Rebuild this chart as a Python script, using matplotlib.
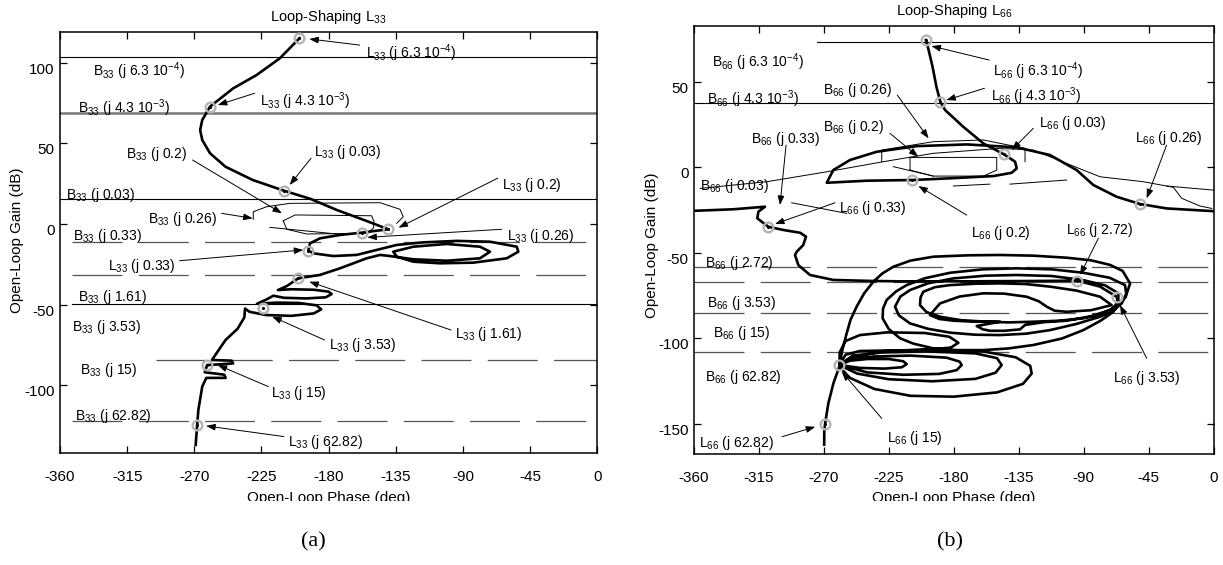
import numpy as np
import matplotlib
matplotlib.use("Agg")
import matplotlib.pyplot as plt
from matplotlib.patches import Rectangle

plt.rcParams['font.family'] = ['Liberation Sans', 'DejaVu Sans']
plt.rcParams['mathtext.default'] = 'regular'
plt.rcParams['axes.unicode_minus'] = False

phase_ticks = [-360, -315, -270, -225, -180, -135, -90, -45, 0]

# ---------------- L33 (left) ----------------
l33_phase = [-199.6, -212.7, -228.3, -243.9, -259.5, -264.7, -266.1, -264.7, -259.5, -249.1,
             -230.9, -210.1, -192.0, -174.6, -155.0, -140.0, -148.0, -157.9, -172.4, -185.8,
             -192.5, -193.6, -190.3, -176.9, -161.2, -147.8, -134.4, -116.6, -94.2, -71.9,
             -54.0, -52.9, -60.7, -83.1, -105.4, -123.3, -134.4, -136.7, -123.3, -100.9,
             -78.6, -71.9, -78.6, -100.9, -123.3, -138.9, -145.6, -154.5, -172.4, -185.8,
             -200.3, -208.0, -214.0, -205.0, -190.0, -180.0, -178.0, -182.0, -195.0, -210.0,
             -217.0, -222.0, -228.0, -215.0, -200.0, -188.0, -185.0, -190.0, -205.0, -222.0,
             -233.0, -236.0, -236.5, -241.0, -249.1, -258.2, -245.0, -244.0, -255.0, -261.4,
             -263.0, -250.0, -249.0, -262.0, -264.7, -267.3, -268.1, -269.1]
l33_gain = [115.2, 102.8, 92.4, 84.2, 72.8, 64.5, 58.3, 52.1, 43.9, 35.5,
            27.3, 20.7, 15.5, 8.7, 2.0, -3.3, -4.2, -5.4, -6.8, -8.9,
            -12.0, -16.5, -18.2, -19.9, -19.2, -16.1, -13.0, -11.4, -10.5, -11.0,
            -14.1, -17.2, -21.3, -24.0, -24.4, -23.4, -20.3, -17.2, -14.1, -12.4,
            -14.1, -17.2, -21.3, -22.8, -21.9, -19.9, -19.2, -21.3, -27.5, -31.6,
            -33.7, -38.5, -41.0, -40.5, -40.8, -42.0, -43.5, -45.5, -46.2, -45.8,
            -44.5, -47.0, -49.5, -48.8, -49.0, -50.5, -53.0, -55.5, -57.0, -56.5,
            -54.5, -52.5, -58.0, -65.0, -72.0, -84.4, -84.8, -86.5, -87.2, -87.5,
            -92.0, -93.5, -95.5, -95.5, -100.9, -115.4, -124.7, -137.1]

l33_mark_phase = [-199.6, -259.5, -210.1, -140.0, -157.9, -193.6, -200.3, -224.2, -261.4, -268.1]
l33_mark_gain = [115.2, 72.8, 20.7, -3.3, -5.4, -16.5, -33.7, -52.3, -87.5, -124.7]

# horizontal bounds B33
b33_level = [103.4, 69.0, 15.5, -11.0, -31.6, -49.8, -84.4, -122.0]
b33_start = [-360, -360, -360, -352, -352, -352, -296, -352]
b33_dashed = [False, False, False, True, True, False, True, True]

# closed bounds B33(j0.2) and B33(j0.26)
b33_02_phase = [-210.4, -202.5, -151.2, -149.6, -150.1, -154.5, -194.7, -208.1, -210.4]
b33_02_gain = [2.0, 5.6, 5.1, 1.4, -2.7, -5.8, -6.2, -3.3, 2.0]
b33_02b_phase = [-219.3, -174.6]
b33_02b_gain = [-2.1, -6.2]
b33_026_phase = [-230.5, -230.5, -221.5, -205.9, -145.6, -132.2, -130.0, -134.4]
b33_026_gain = [2.9, 7.6, 10.7, 12.8, 13.2, 9.1, 4.5, 0.4]

# labels (text, phase, gain) and arrows (tail -> tip)
l33_labels = [
    (r'B$_{33}$ (j 6.3 10$^{-4}$)', -338.2, 94.5),
    (r'L$_{33}$ (j 6.3 10$^{-4}$)', -155.3, 105.9),
    (r'B$_{33}$ (j 4.3 10$^{-3}$)', -348.1, 71.8),
    (r'L$_{33}$ (j 4.3 10$^{-3}$)', -226.2, 75.9),
    (r'B$_{33}$ (j 0.2)', -315.5, 43.4),
    (r'L$_{33}$ (j 0.03)', -189.7, 44.5),
    (r'B$_{33}$ (j 0.03)', -355.9, 18.0),
    (r'L$_{33}$ (j 0.2)', -63.6, 24.2),
    (r'B$_{33}$ (j 0.26)', -301.2, 2.9),
    (r'B$_{33}$ (j 0.33)', -351.2, -7.2),
    (r'L$_{33}$ (j 0.26)', -60.2, -7.2),
    (r'L$_{33}$ (j 0.33)', -327.8, -25.9),
    (r'B$_{33}$ (j 1.61)', -348.1, -45.1),
    (r'B$_{33}$ (j 3.53)', -352.0, -64.1),
    (r'L$_{33}$ (j 1.61)', -95.4, -68.2),
    (r'L$_{33}$ (j 3.53)', -180.1, -75.1),
    (r'B$_{33}$ (j 15)', -346.8, -90.6),
    (r'L$_{33}$ (j 15)', -218.6, -105.0),
    (r'B$_{33}$ (j 62.82)', -350.0, -118.9),
    (r'L$_{33}$ (j 62.82)', -207.4, -135.4),
]
l33_arrows = [
    ((-159.2, 111.0), (-193.0, 114.8)),
    ((-229.6, 81.1), (-254.3, 73.8)),
    ((-191.8, 40.8), (-206.1, 24.2)),
    ((-271.2, 39.7), (-211.3, 6.6)),
    ((-66.7, 28.4), (-133.2, -2.3)),
    ((-251.7, 6.6), (-230.9, 3.5)),
    ((-64.1, -3.3), (-154.1, -8.3)),
    ((-279.9, -22.8), (-197.0, -16.1)),
    ((-98.0, -65.8), (-193.0, -35.8)),
    ((-182.7, -72.0), (-217.8, -57.5)),
    ((-220.4, -100.9), (-254.3, -87.5)),
    ((-210.0, -131.9), (-262.1, -125.3)),
]

# ---------------- L66 (right) ----------------
l66_phase = [-199.3, -197.4, -194.7, -192.0, -189.3, -186.0, -173.4, -159.5, -145.2, -137.5,
             -136.4, -139.9, -152.6, -182.6, -208.7, -240.3, -268.0, -263.5, -251.9, -233.4,
             -205.7, -171.0, -136.4, -113.3, -94.8, -83.3, -67.1, -51.0, -32.5, -2.4, 0.0,
             np.nan,
             -360.0, -332.8, -310.8, -315.4, -316.1, -308.5, -298.1, -286.5, -282.4, -284.3,
             -288.8, -290.0, -287.7, -279.6, -263.4, -235.7, -217.2, -171.0, -124.8, -94.4,
             -78.6, -67.1,
             # upper loops
             -66.0, -69.4, -78.0, -90.2, -105.0, -124.8, -142.0, -159.5, -178.0, -194.1,
             -208.0, -217.2, -225.0, -229.3, -229.0, -226.5, -220.0, -212.6, -200.0, -182.6,
             -160.0, -136.4, -112.0, -90.2, -72.0, -61.3, -60.5, -63.6,
             -70.0, -78.6, -95.0, -113.3, -130.0, -147.9, -165.0, -182.6, -198.0, -210.3,
             -218.0, -220.7, -217.0, -210.3, -198.0, -180.3, -158.0, -136.4, -112.0, -90.2,
             -75.0, -65.9, -66.0, -69.4,
             -80.0, -90.2, -107.0, -124.8, -142.0, -157.2, -175.0, -189.5, -199.0, -203.4,
             -203.0, -201.1, -193.0, -182.6, -165.0, -147.9, -130.0, -113.3, -95.0, -78.6,
             -70.6,
             -85.0, -101.7, -110.0, -115.6, -121.0, -129.5, -145.0, -159.5, -176.0, -189.5,
             -196.5, -190.0, -180.3, -165.0, -147.9,
             -164.1, -160.0, -154.9, -145.0, -134.1, -130.6, -118.0, -101.7, -85.0, -71.7,
             -61.0, -57.8,
             # outer arc down to j15
             -63.0, -71.7, -85.0, -101.7, -125.0, -147.9, -170.0, -194.1, -210.0, -221.9,
             -229.5, -235.7, -242.0, -247.3, -251.5, -254.2, -257.0, -259.3,
             # lower loops around j15
             -259.0, -255.0, -245.0, -226.0, -200.0, -183.0, -176.8, -182.0, -200.0, -225.0,
             -245.0, -255.0, -259.3,
             -252.0, -240.0, -225.0, -215.0, -212.6, -216.0, -228.0, -245.0, -259.3,
             -252.0, -235.0, -210.0, -185.0, -176.0, -174.5, -178.0, -190.0, -215.0, -240.0,
             -259.3,
             -250.0, -230.0, -200.0, -165.0, -150.0, -146.8, -151.0, -165.0, -195.0, -225.0,
             -247.0, -259.3,
             -250.0, -230.0, -200.0, -160.0, -137.0, -127.0, -126.0, -132.0, -150.0, -180.0,
             -210.0, -235.0, -252.0, -259.3,
             # final descent
             -263.4, -266.9, -269.2, -269.7, -269.8]
l66_gain = [74.4, 68.5, 58.8, 47.1, 38.3, 33.5, 23.7, 14.0, 7.6, 3.3,
            -0.6, -3.2, -5.1, -6.4, -7.4, -7.8, -9.0, -1.6, 4.3, 9.1,
            12.4, 13.4, 11.7, 7.2, -1.6, -10.3, -17.2, -21.4, -24.0, -25.5, -25.6,
            np.nan,
            -25.4, -24.5, -23.0, -25.9, -29.8, -34.7, -36.6, -38.2, -40.5, -45.4,
            -49.3, -51.2, -57.1, -62.9, -65.8, -66.4, -66.6, -66.6, -66.4, -66.2,
            -69.7, -75.6,
            -80.0, -84.4, -89.5, -95.1, -100.0, -103.8, -105.8, -106.8, -106.8, -105.8,
            -103.0, -99.9, -94.5, -88.2, -82.5, -77.5, -72.5, -68.8, -64.8, -61.6,
            -59.6, -59.0, -59.6, -61.6, -64.5, -68.8, -74.0, -79.5,
            -84.0, -87.3, -91.5, -95.1, -97.2, -98.0, -97.8, -96.6, -94.3, -91.2,
            -86.5, -81.4, -75.5, -71.7, -67.8, -64.9, -63.3, -62.9, -63.5, -65.9,
            -69.0, -73.6, -78.5, -82.4,
            -86.3, -88.2, -89.6, -90.2, -90.6, -90.2, -89.3, -87.3, -84.5, -80.5,
            -76.0, -72.7, -70.0, -68.8, -68.0, -67.8, -68.2, -69.7, -72.0, -75.6,
            -80.5,
            -83.5, -84.4, -83.8, -81.4, -78.3, -75.6, -73.8, -73.6, -75.5, -79.5,
            -86.3, -88.6, -89.6, -90.2, -90.2,
            -92.7, -94.6, -95.5, -95.5, -94.7, -92.1, -90.5, -89.6, -87.0, -83.4,
            -76.0, -67.8,
            -60.5, -57.0, -54.3, -52.8, -51.6, -51.2, -51.4, -52.2, -54.5, -58.1,
            -62.0, -66.8, -73.5, -81.4, -89.0, -97.0, -106.0, -115.5,
            -108.0, -101.5, -98.0, -96.4, -96.8, -99.0, -102.5, -105.3, -106.7, -107.0,
            -107.3, -109.5, -115.5,
            -113.0, -112.0, -112.0, -113.3, -115.0, -116.8, -117.6, -117.2, -115.5,
            -112.0, -110.5, -110.0, -111.2, -113.5, -115.5, -118.5, -120.7, -121.2, -119.8,
            -115.5,
            -110.0, -108.2, -107.5, -108.7, -111.5, -115.5, -120.0, -123.6, -125.0, -123.8,
            -120.5, -115.5,
            -111.0, -107.5, -106.5, -107.5, -111.0, -116.0, -120.5, -126.5, -131.5, -134.0,
            -133.5, -129.5, -123.0, -116.5,
            -126.2, -137.9, -150.0, -154.5, -162.0]

l66_mark_phase = [-199.3, -189.3, -145.2, -208.7, -51.0, -308.5, -94.4, -67.1, -259.3, -269.2]
l66_mark_gain = [74.4, 38.3, 7.6, -7.4, -21.4, -34.7, -66.2, -75.6, -115.5, -150.0]

b66_level = [73.0, 37.4, -58.1, -67.2, -85.3, -108.1]
b66_start = [-274.6, -360, -360, -360, -360, -360]
b66_dashed = [False, False, True, True, True, True]

b66_003_phase = [-355.8, -309.6, -268.0, -228.8, -194.2, -147.9, -124.9, -101.8, -78.6, -48.6, -32.5, 0.0]
b66_003_gain = [-12.3, -8.4, -2.6, 3.3, 8.2, 11.1, 10.1, 2.3, -5.5, -8.4, -10.9, -13.3]
b66_tail_phase = [-32.5, -27.8, -22.0, -9.3, -1.2]
b66_tail_gain = [-10.9, -11.7, -18.1, -22.6, -24.0]
b66_026_phase = [-229.9, -229.9, -194.2, -159.5, -130.6, -130.6]
b66_026_gain = [3.3, 10.1, 15.0, 16.0, 11.1, 3.3]
b66_02_phase = [-210.3, -210.3, -150.2, -150.2, -159.5, -194.2, -210.3]
b66_02_gain = [-1.6, 5.8, 5.8, -1.6, -5.1, -5.1, -1.6]
b66_frag_phase = [[-221.8, -194.2], [-141.0, -101.8], [-180.3, -154.9], [-292.3, -254.2]]
b66_frag_gain = [[0.4, -5.1], [-9.8, -7.4], [-10.9, -9.8], [-20.7, -26.9]]

l66_labels = [
    (r'B$_{66}$ (j 6.3 10$^{-4}$)', -347.3, 61.7),
    (r'L$_{66}$ (j 6.3 10$^{-4}$)', -152.7, 55.9),
    (r'B$_{66}$ (j 4.3 10$^{-3}$)', -351.0, 39.7),
    (r'L$_{66}$ (j 4.3 10$^{-3}$)', -154.0, 41.3),
    (r'B$_{66}$ (j 0.26)', -270.5, 45.2),
    (r'B$_{66}$ (j 0.2)', -270.4, 23.7),
    (r'B$_{66}$ (j 0.33)', -320.7, 16.4),
    (r'L$_{66}$ (j 0.03)', -120.7, 25.7),
    (r'L$_{66}$ (j 0.26)', -54.4, 16.9),
    (r'B$_{66}$ (j 0.03)', -355.8, -10.9),
    (r'L$_{66}$ (j 0.33)', -259.3, -24.0),
    (r'L$_{66}$ (j 0.2)', -168.2, -38.6),
    (r'L$_{66}$ (j 2.72)', -102.2, -36.6),
    (r'B$_{66}$ (j 2.72)', -352.4, -56.1),
    (r'B$_{66}$ (j 3.53)', -351.2, -79.1),
    (r'B$_{66}$ (j 15)', -347.0, -97.0),
    (r'B$_{66}$ (j 62.82)', -352.4, -122.7),
    (r'L$_{66}$ (j 3.53)', -69.4, -123.3),
    (r'L$_{66}$ (j 15)', -226.4, -158.3),
    (r'L$_{66}$ (j 62.82)', -356.5, -161.3),
]
l66_arrows = [
    ((-155.4, 62.7), (-195.5, 70.9)),
    ((-158.7, 46.2), (-185.2, 39.3)),
    ((-219.1, 42.2), (-197.4, 16.9)),
    ((-224.2, 19.9), (-204.6, 6.2)),
    ((-296.2, 13.0), (-300.4, -22.0)),
    ((-124.9, 22.8), (-139.8, 10.1)),
    ((-32.5, 13.0), (-46.3, -18.1)),
    ((-262.3, -20.7), (-303.9, -33.1)),
    ((-171.0, -27.9), (-204.5, -10.9)),
    ((-79.8, -41.5), (-92.5, -62.9)),
    ((-46.3, -111.6), (-64.8, -80.5)),
    ((-229.9, -146.7), (-257.6, -119.4)),
    ((-299.0, -157.4), (-276.0, -151.6)),
]

W, H = 1223, 565
fig = plt.figure(figsize=(W / 100, H / 100), dpi=100)


def fx(x):
    return x / W


def fy(y):
    return 1 - y / H


ax1 = fig.add_axes([fx(60), fy(453), 537.3 / W, 421.3 / H])
ax2 = fig.add_axes([fx(694), fy(454), 519.5 / W, 428 / H])


def style_axes(ax, ylim, yticks):
    ax.set_xlim(-360, 0)
    ax.set_ylim(*ylim)
    ax.set_xticks(phase_ticks)
    ax.set_yticks(yticks)
    ax.tick_params(direction='in', top=True, right=True, length=5, width=0.9,
                   labelsize=11, pad=12)
    ax.tick_params(axis='y', pad=4)
    for t in ax.get_yticklabels():
        t.set_va('top')
    for s in ax.spines.values():
        s.set_linewidth(1.1)


def draw_bounds(ax, levels, starts, dashed):
    for lv, st, da in zip(levels, starts, dashed):
        if da:
            ax.plot([st, 0], [lv, lv], color='#555555', lw=0.9, ls=(0, (40, 13)))
        else:
            ax.plot([st, 0], [lv, lv], color='k', lw=0.8)


def draw_marks(ax, ph, gn):
    ax.plot(ph, gn, 'o', ms=7, mfc='none', mec='#b4b4b4', mew=1.7, zorder=5)
    ax.plot(ph, gn, '.', ms=2.5, color='k', zorder=6)


def draw_labels(ax, labels, arrows):
    for txt, p, g in labels:
        ax.text(p, g, txt, fontsize=10, ha='left', va='center')
    for tail, tip in arrows:
        ax.annotate('', xy=tip, xytext=tail,
                    arrowprops=dict(arrowstyle='-|>,head_length=0.55,head_width=0.2',
                                    lw=0.7, color='k', shrinkA=0, shrinkB=0))


# left panel
style_axes(ax1, (-142.1, 119.3), [-100, -50, 0, 50, 100])
draw_bounds(ax1, b33_level, b33_start, b33_dashed)
ax1.plot([-360, 0], [69.0, 69.0], color='#7a7a7a', lw=1.8)
ax1.plot(b33_02_phase, b33_02_gain, color='k', lw=0.7)
ax1.plot(b33_02b_phase, b33_02b_gain, color='k', lw=0.7)
ax1.plot(b33_026_phase, b33_026_gain, color='k', lw=0.7)
ax1.plot(l33_phase, l33_gain, color='k', lw=1.9)
draw_marks(ax1, l33_mark_phase, l33_mark_gain)
draw_labels(ax1, l33_labels, l33_arrows)

# right panel
style_axes(ax2, (-167.5, 82.6), [-150, -100, -50, 0, 50])
draw_bounds(ax2, b66_level, b66_start, b66_dashed)
ax2.plot(b66_003_phase, b66_003_gain, color='k', lw=0.7)
ax2.plot(b66_tail_phase, b66_tail_gain, color='k', lw=0.7)
ax2.plot(b66_026_phase, b66_026_gain, color='k', lw=0.7)
ax2.plot(b66_02_phase, b66_02_gain, color='k', lw=0.7)
for fp, fg in zip(b66_frag_phase, b66_frag_gain):
    ax2.plot(fp, fg, color='k', lw=0.7)
ax2.plot(l66_phase, l66_gain, color='k', lw=1.9)
draw_marks(ax2, l66_mark_phase, l66_mark_gain)
draw_labels(ax2, l66_labels, l66_arrows)

# titles and axis labels
fig.text(fx(328.5), fy(17), r'Loop-Shaping L$_{33}$', ha='center', va='center', fontsize=10.5)
fig.text(fx(953.8), fy(11), r'Loop-Shaping L$_{66}$', ha='center', va='center', fontsize=10.5)
fig.text(fx(328.5), fy(491), 'Open-Loop Phase (deg)', ha='center', va='top', fontsize=11)
fig.text(fx(953.8), fy(491), 'Open-Loop Phase (deg)', ha='center', va='top', fontsize=11)
fig.text(fx(17), fy(240), 'Open-Loop Gain (dB)', ha='center', va='center',
         rotation=90, fontsize=11)
fig.text(fx(652), fy(245), 'Open-Loop Gain (dB)', ha='center', va='center',
         rotation=90, fontsize=11)
# the x labels are cut off in the source picture
fig.patches.append(Rectangle((0, fy(520)), 1, fy(501) - fy(520), transform=fig.transFigure,
                             facecolor='white', edgecolor='none', zorder=10))
fig.text(fx(313), fy(542), '(a)', ha='center', va='center', fontsize=16,
         family='Liberation Serif', zorder=11)
fig.text(fx(950), fy(542), '(b)', ha='center', va='center', fontsize=16,
         family='Liberation Serif', zorder=11)

fig.savefig('out.png', dpi=100)
